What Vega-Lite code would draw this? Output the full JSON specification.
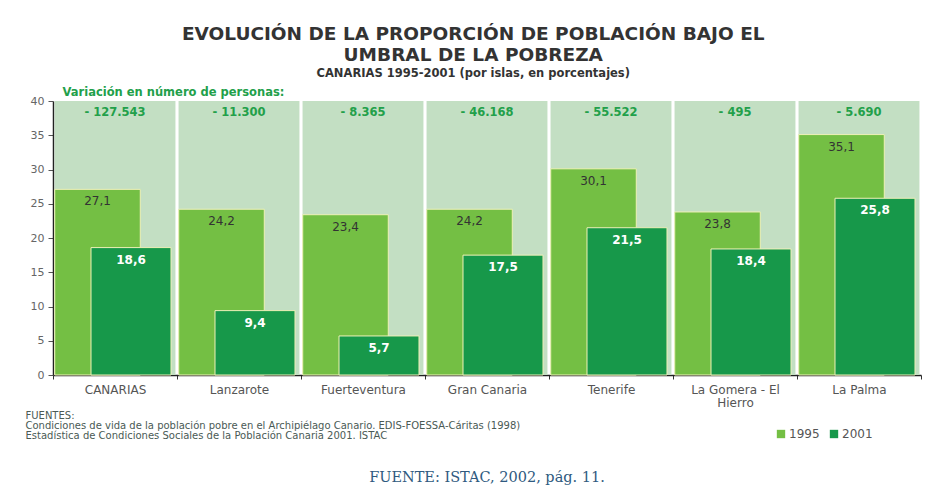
{
  "$schema": "https://vega.github.io/schema/vega-lite/v6.json",
  "background": "white",
  "padding": {"left": 25, "top": 25, "right": 10, "bottom": 0},
  "title": {
    "text": ["EVOLUCIÓN DE LA PROPORCIÓN DE POBLACIÓN BAJO EL", "UMBRAL DE LA POBREZA"],
    "subtitle": "CANARIAS 1995-2001 (por islas, en porcentajes)",
    "anchor": "middle",
    "font": "DejaVu Sans",
    "fontSize": 18.5,
    "fontWeight": "bold",
    "color": "#333333",
    "lineHeight": 21,
    "subtitleFont": "DejaVu Sans",
    "subtitleFontSize": 11.5,
    "subtitleFontWeight": "bold",
    "subtitleColor": "#333333",
    "subtitlePadding": 3,
    "offset": 7
  },
  "datasets": {
    "islas": [
      {"isla": "CANARIAS", "variacion": -127543},
      {"isla": "Lanzarote", "variacion": -11300},
      {"isla": "Fuerteventura", "variacion": -8365},
      {"isla": "Gran Canaria", "variacion": -46168},
      {"isla": "Tenerife", "variacion": -55522},
      {"isla": "La Gomera - El Hierro", "variacion": -495},
      {"isla": "La Palma", "variacion": -5690}
    ],
    "datos": [
      {"isla": "CANARIAS", "anio": "1995", "valor": 27.1},
      {"isla": "CANARIAS", "anio": "2001", "valor": 18.6},
      {"isla": "Lanzarote", "anio": "1995", "valor": 24.2},
      {"isla": "Lanzarote", "anio": "2001", "valor": 9.4},
      {"isla": "Fuerteventura", "anio": "1995", "valor": 23.4},
      {"isla": "Fuerteventura", "anio": "2001", "valor": 5.7},
      {"isla": "Gran Canaria", "anio": "1995", "valor": 24.2},
      {"isla": "Gran Canaria", "anio": "2001", "valor": 17.5},
      {"isla": "Tenerife", "anio": "1995", "valor": 30.1},
      {"isla": "Tenerife", "anio": "2001", "valor": 21.5},
      {"isla": "La Gomera - El Hierro", "anio": "1995", "valor": 23.8},
      {"isla": "La Gomera - El Hierro", "anio": "2001", "valor": 18.4},
      {"isla": "La Palma", "anio": "1995", "valor": 35.1},
      {"isla": "La Palma", "anio": "2001", "valor": 25.8}
    ]
  },
  "vconcat": [
    {
      "width": 868,
      "height": 274,
      "encoding": {
        "x": {
          "field": "isla",
          "type": "nominal",
          "sort": null,
          "scale": {"paddingInner": 0, "paddingOuter": 0},
          "axis": {
            "labelAngle": 0,
            "labelFontSize": 12,
            "labelColor": "#555555",
            "labelPadding": 5,
            "labelLineHeight": 13,
            "labelExpr": "datum.value == 'La Gomera - El Hierro' ? ['La Gomera - El', 'Hierro'] : datum.value",
            "tickBand": "extent",
            "tickSize": 4,
            "tickColor": "#333333",
            "domainColor": "#222222",
            "domainWidth": 1.5,
            "title": ["FUENTES:", "Condiciones de vida de la población pobre en el Archipiélago Canario. EDIS-FOESSA-Cáritas (1998)", "Estadística de Condiciones Sociales de la Población Canaria 2001. ISTAC"],
            "titleFontSize": 10,
            "titleFontWeight": "normal",
            "titleColor": "#4a5a55",
            "titleLineHeight": 10,
            "titleAlign": "left",
            "titleAnchor": "start",
            "titleBaseline": "top",
            "titleX": -28,
            "titleY": 35
          }
        }
      },
      "layer": [
        {
          "data": {"name": "islas"},
          "mark": {"type": "bar", "color": "#c3dfc3", "width": {"band": 0.975}},
          "encoding": {
            "y": {
              "datum": 40,
              "type": "quantitative",
              "scale": {"domain": [0, 40], "nice": false},
              "axis": {
                "values": [0, 5, 10, 15, 20, 25, 30, 35, 40],
                "tickCount": 20,
                "grid": false,
                "labelFontSize": 11,
                "labelColor": "#666666",
                "labelPadding": 4,
                "labelOverlap": false,
                "tickSize": 5,
                "tickColor": "#555555",
                "domainColor": "#222222",
                "domainWidth": 1.5,
                "title": "Variación en número de personas:",
                "titleAngle": 0,
                "titleAlign": "left",
                "titleBaseline": "middle",
                "titleX": 9,
                "titleY": -9,
                "titleColor": "#22a04a",
                "titleFontSize": 11.5,
                "titleFontWeight": "bold"
              }
            }
          }
        },
        {
          "data": {"name": "datos"},
          "transform": [{"filter": "datum.anio == '1995'"}],
          "mark": {"type": "bar", "width": {"band": 0.69}, "xOffset": -17.5, "stroke": "#eef0b8", "strokeWidth": 1},
          "encoding": {
            "y": {
              "field": "valor",
              "type": "quantitative",
              "axis": {
                "values": [0, 5, 10, 15, 20, 25, 30, 35, 40],
                "tickCount": 20,
                "grid": false,
                "labelFontSize": 11,
                "labelColor": "#666666",
                "labelPadding": 4,
                "labelOverlap": false,
                "tickSize": 5,
                "tickColor": "#555555",
                "domainColor": "#222222",
                "domainWidth": 1.5,
                "title": "Variación en número de personas:",
                "titleAngle": 0,
                "titleAlign": "left",
                "titleBaseline": "middle",
                "titleX": 9,
                "titleY": -9,
                "titleColor": "#22a04a",
                "titleFontSize": 11.5,
                "titleFontWeight": "bold"
              }
            },
            "color": {
              "field": "anio",
              "type": "nominal",
              "scale": {"domain": ["1995", "2001"], "range": ["#74bf44", "#17984a"]},
              "legend": {
                "orient": "none",
                "legendX": 722,
                "legendY": 327,
                "direction": "horizontal",
                "title": null,
                "symbolType": "square",
                "symbolSize": 70,
                "symbolStrokeWidth": 0,
                "labelFontSize": 12,
                "labelColor": "#555555",
                "labelOffset": 2,
                "columnPadding": 8
              }
            }
          }
        },
        {
          "data": {"name": "datos"},
          "transform": [{"filter": "datum.anio == '2001'"}],
          "mark": {"type": "bar", "width": {"band": 0.645}, "xOffset": 16, "stroke": "#eef0b8", "strokeWidth": 1},
          "encoding": {
            "y": {"field": "valor", "type": "quantitative", "axis": {"values": [0, 5, 10, 15, 20, 25, 30, 35, 40], "tickCount": 20, "labelOverlap": false, "title": "Variación en número de personas:"}},
            "color": {"field": "anio", "type": "nominal"}
          }
        },
        {
          "data": {"name": "datos"},
          "transform": [{"filter": "datum.anio == '1995'"}],
          "mark": {"type": "text", "xOffset": -17.5, "dy": 12, "baseline": "middle", "fontSize": 12, "color": "#333333"},
          "encoding": {
            "y": {"field": "valor", "type": "quantitative", "axis": {"values": [0, 5, 10, 15, 20, 25, 30, 35, 40], "tickCount": 20, "labelOverlap": false, "title": "Variación en número de personas:"}},
            "text": {"field": "valor", "type": "quantitative", "format": ".1f"}
          }
        },
        {
          "data": {"name": "datos"},
          "transform": [{"filter": "datum.anio == '2001'"}],
          "mark": {"type": "text", "xOffset": 16, "dy": 12, "baseline": "middle", "fontSize": 12, "fontWeight": "bold", "color": "white"},
          "encoding": {
            "y": {"field": "valor", "type": "quantitative", "axis": {"values": [0, 5, 10, 15, 20, 25, 30, 35, 40], "tickCount": 20, "labelOverlap": false, "title": "Variación en número de personas:"}},
            "text": {"field": "valor", "type": "quantitative", "format": ".1f"}
          }
        },
        {
          "data": {"name": "islas"},
          "mark": {"type": "text", "dy": 12, "baseline": "middle", "fontSize": 11.5, "fontWeight": "bold", "color": "#22a04a"},
          "encoding": {
            "y": {"datum": 40, "type": "quantitative", "axis": {"values": [0, 5, 10, 15, 20, 25, 30, 35, 40], "tickCount": 20, "labelOverlap": false, "title": "Variación en número de personas:"}},
            "text": {"field": "variacion", "type": "quantitative", "format": ",d"}
          }
        }
      ]
    },
    {
      "width": 868,
      "height": 8,
      "data": {"values": [{"fuente": "FUENTE: ISTAC, 2002, pág. 11."}]},
      "mark": {"type": "text", "font": "DejaVu Serif", "fontSize": 14.5, "color": "#2f5a80", "baseline": "middle"},
      "encoding": {"text": {"field": "fuente", "type": "nominal"}}
    }
  ],
  "spacing": 30,
  "config": {
    "font": "DejaVu Sans",
    "view": {"stroke": null},
    "axisY": {"tickCount": 20, "labelOverlap": false},
    "locale": {
      "number": {"decimal": ",", "thousands": ".", "grouping": [3], "currency": ["", " €"], "minus": "- "}
    }
  }
}
